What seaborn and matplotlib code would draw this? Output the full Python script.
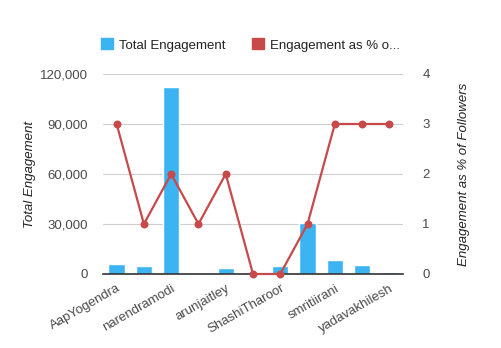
import matplotlib
matplotlib.use("Agg")
import matplotlib.pyplot as plt
from matplotlib.patches import Patch
import seaborn as sns
import numpy as np
import pandas as pd

accounts = ["AapYogendra", "ArvindKejriwal", "narendramodi", "OfficeOfRG", "arunjaitley",
            "sushmaswaraj", "ShashiTharoor", "digvijaya_28", "smritiirani", "nitin_gadkari",
            "yadavakhilesh"]
total_engagement = [6000, 4600, 112000, 0, 3800, 1400, 4600, 30800, 8600, 5400, 1400]
engagement_pct = [3, 1, 2, 1, 2, 0, 0, 1, 3, 3, 3]
left_ticks = [0, 30000, 60000, 90000, 120000]
right_ticks = [0, 1, 2, 3, 4]

bar_color = "#3db4f2"
line_color = "#c8494a"
grid_color = "#d0d0d0"
text_color = "#4a4a4a"
fs = 9.5

sns.set_theme(style="white")
plt.rcParams["font.family"] = ["Liberation Sans", "DejaVu Sans"]

df = pd.DataFrame({"account": accounts, "total": total_engagement, "pct": engagement_pct})

fig = plt.figure(figsize=(5.01, 3.48), dpi=100)
ax = fig.add_axes([103/501, 1-274/348, 300/501, 200/348])

sns.barplot(data=df, x="account", y="total", color=bar_color, width=0.6,
            saturation=1, ax=ax, zorder=2)
ax.set_ylim(0, 120000)
ax.set_xlim(-0.5, len(accounts)-0.5)
ax.set_yticks(left_ticks)
ax.set_yticklabels([f"{v:,}" for v in left_ticks], fontsize=fs, color=text_color)
ax.yaxis.grid(True, color=grid_color, linewidth=0.8)
ax.set_axisbelow(True)
ax.set_xlabel("")
ax.set_ylabel("Total Engagement", fontsize=fs, style="italic", color="#222222", labelpad=3)
for s in ["top", "left", "right"]:
    ax.spines[s].set_visible(False)
ax.spines["bottom"].set_color("#333333")
ax.spines["bottom"].set_linewidth(1.2)
ax.tick_params(axis="y", length=0, pad=11)

ax.set_xticks(range(len(accounts)))
ax.set_xticklabels([a if i % 2 == 0 else "" for i, a in enumerate(accounts)],
                   rotation=30, ha="right", rotation_mode="anchor", fontsize=fs, color=text_color)
ax.tick_params(axis="x", length=0, pad=6)

ax2 = ax.twinx()
sns.pointplot(data=df, x="account", y="pct", color=line_color, markers="o",
              markersize=4.5, linewidth=1.6, ax=ax2)
ax2.set_ylim(0, 4)
ax2.set_xlim(-0.5, len(accounts)-0.5)
ax2.set_yticks(right_ticks)
ax2.set_yticklabels([str(v) for v in right_ticks], fontsize=fs, color=text_color)
ax2.set_ylabel("Engagement as % of Followers", fontsize=fs, style="italic", color="#222222", labelpad=20)
for s in ["top", "left", "right", "bottom"]:
    ax2.spines[s].set_visible(False)
ax2.tick_params(axis="both", length=0, pad=14)
ax2.grid(False)
for c in ax2.collections + ax2.lines:
    c.set_clip_on(False)

handles = [Patch(color=bar_color), Patch(color=line_color)]
fig.legend(handles, ["Total Engagement", "Engagement as % o..."], loc="center",
           bbox_to_anchor=(0.5, 1-45/348), ncol=2, frameon=False, fontsize=fs,
           handlelength=0.9, handleheight=0.9, handletextpad=0.5, columnspacing=2.0,
           labelcolor="#222222")

fig.savefig("out.png", dpi=100)
